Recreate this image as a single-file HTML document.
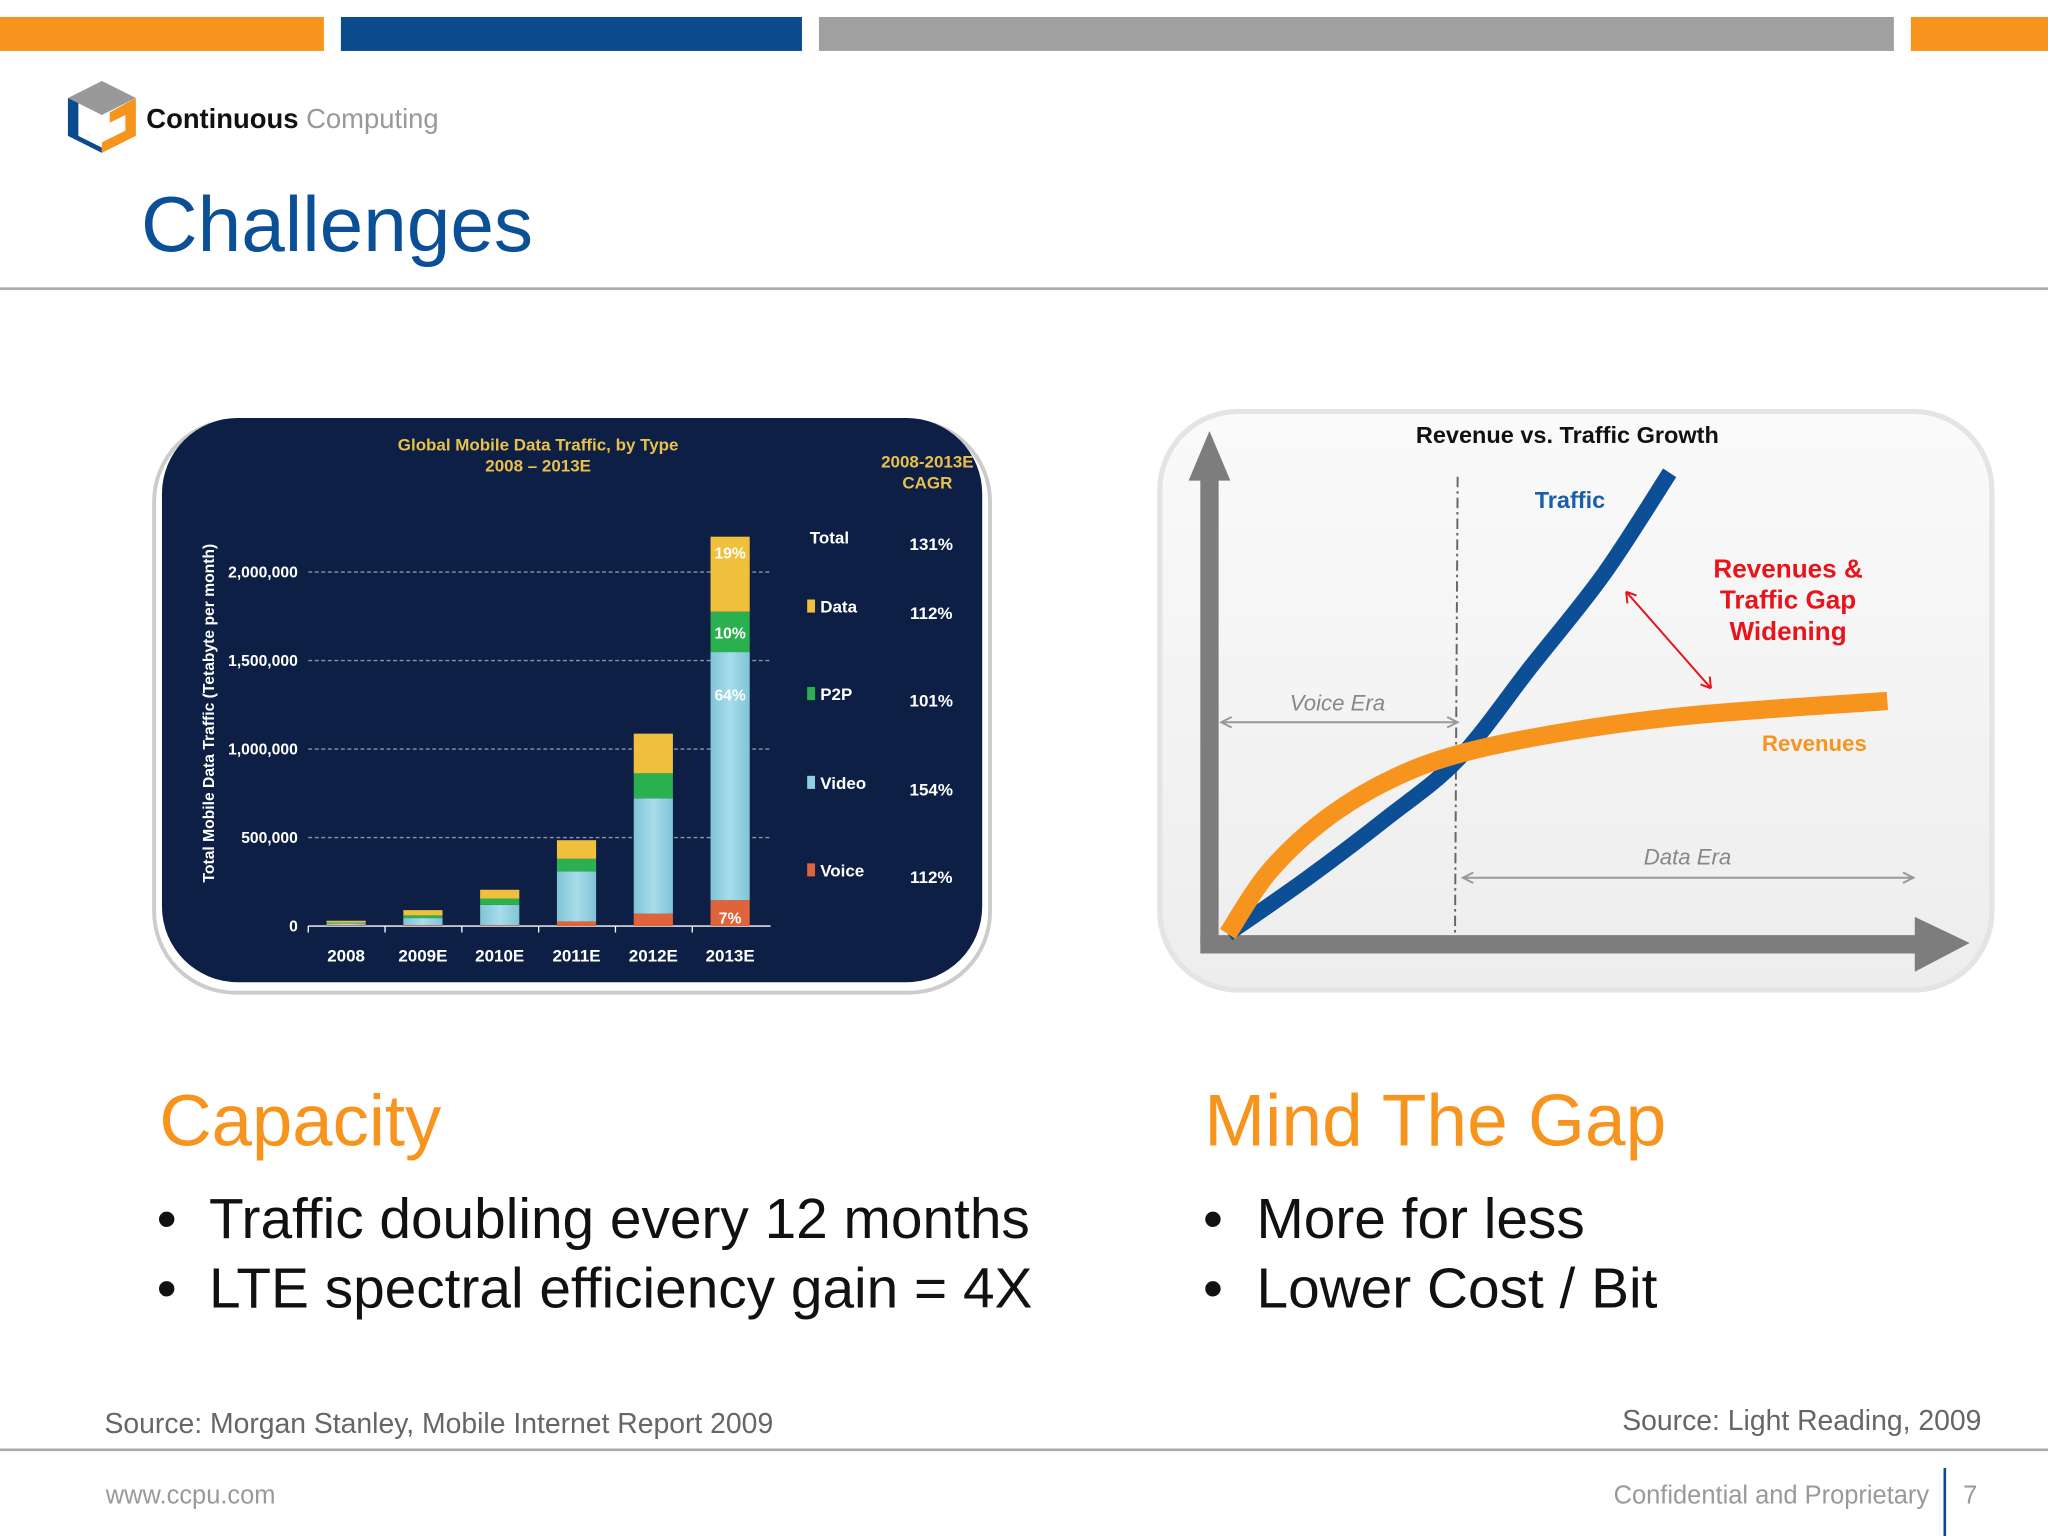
<!DOCTYPE html>
<html><head><meta charset="utf-8"><style>
html,body{margin:0;padding:0;background:#fff;}
svg{display:block;font-family:"Liberation Sans",Arial,sans-serif;}
</style></head><body>
<svg id="s" width="2048" height="1536" viewBox="0 0 1568 1176" xmlns="http://www.w3.org/2000/svg">
<defs>
<linearGradient id="vid" x1="0" x2="1"><stop offset="0" stop-color="#7fc4d6"/><stop offset="0.5" stop-color="#a8dceb"/><stop offset="1" stop-color="#7fc4d6"/></linearGradient>
<linearGradient id="rbg" x1="0" y1="0" x2="0" y2="1"><stop offset="0" stop-color="#fafafa"/><stop offset="1" stop-color="#ededed"/></linearGradient>
</defs>
<rect x="0" y="13" width="248" height="26" fill="#f7941d"/>
<rect x="261" y="13" width="353" height="26" fill="#0b4a8c"/>
<rect x="627" y="13" width="823" height="26" fill="#a0a0a0"/>
<rect x="1463" y="13" width="105" height="26" fill="#f7941d"/>
<g>
<polygon points="78,62 104,75 78,88 52,75" fill="#999"/>
<polygon points="52,75 60,79 60,104 78,113 78,117 52,104" fill="#0b4a8c"/>
<polygon points="104,75 104,104 78,117 78,109 96,100 96,88 84,94 84,86" fill="#f7941d"/>
<text x="112" y="98" font-size="21" font-weight="bold" fill="#111">Continuous <tspan font-weight="normal" fill="#999">Computing</tspan></text>
</g>
<text x="108" y="192" font-size="60" fill="#0b4f96">Challenges</text>
<rect x="0" y="220" width="1568" height="2" fill="#aaa"/>

<rect x="118" y="322" width="640" height="438" rx="62" fill="#fff" stroke="#ccc" stroke-width="3"/>
<rect x="124" y="320" width="628" height="432" rx="58" fill="#0d1f45"/>
<g id="lc"></g>

<rect x="888" y="315" width="637" height="443" rx="60" fill="url(#rbg)" stroke="#e4e4e4" stroke-width="4"/>
<g id="rc"></g>

<text x="122" y="877" font-size="55.5" fill="#f7941d">Capacity</text>
<text x="120" y="948" font-size="43.5" fill="#111">•</text>
<text x="160" y="948" font-size="43.5" fill="#111">Traffic doubling every 12 months</text>
<text x="120" y="1001" font-size="43.5" fill="#111">•</text>
<text x="160" y="1001" font-size="43.5" fill="#111">LTE spectral efficiency gain = 4X</text>
<text x="922" y="877" font-size="56" fill="#f7941d">Mind The Gap</text>
<text x="921" y="948" font-size="43.5" fill="#111">•</text>
<text x="962" y="948" font-size="43.5" fill="#111">More for less</text>
<text x="921" y="1001" font-size="43.5" fill="#111">•</text>
<text x="962" y="1001" font-size="43.5" fill="#111">Lower Cost / Bit</text>
<text x="80" y="1097" font-size="21.7" fill="#666">Source: Morgan Stanley, Mobile Internet Report 2009</text>
<text x="1517" y="1095" font-size="21.7" fill="#666" text-anchor="end">Source: Light Reading, 2009</text>
<rect x="0" y="1109" width="1568" height="2" fill="#aaa"/>
<text x="81" y="1151" font-size="19.5" fill="#999">www.ccpu.com</text>
<text x="1477" y="1151" font-size="19.5" fill="#999" text-anchor="end">Confidential and Proprietary</text>
<rect x="1488" y="1124" width="2" height="52" fill="#0b4a8c"/>
<text x="1503" y="1151" font-size="19.5" fill="#999">7</text>
</svg>
<script>
// ---- left chart data ----
const years = ['2008','2009E','2010E','2011E','2012E','2013E'];
const voice = [5000, 5000, 5000, 26000, 70000, 146000];
const video = [10000, 40000, 115000, 283000, 652000, 1402000];
const p2p = [5000, 15000, 35000, 71000, 141000, 228000];
const dataT = [10000, 30000, 50000, 105000, 224000, 424000];
const yTicks = [0, 500000, 1000000, 1500000, 2000000];
const yTickLabels = ['0','500,000','1,000,000','1,500,000','2,000,000'];
const legendNames = ['Total','Data','P2P','Video','Voice'];
const cagr = ['131%','112%','101%','154%','112%'];
const shareLabels = ['7%','64%','10%','19%'];

// ---- right chart data ----
const trafficT = [0, 1.2, 2.4, 3.5, 4.6, 5.7, 6.7];
const traffic = [0, 12, 25, 38, 58, 78, 100];
const revenueT = [0, 0.6, 1.4, 2.4, 3.5, 5.2, 7.1, 10];
const revenue = [0, 13, 24, 33, 39, 44, 47.5, 50.5];

const NS = 'http://www.w3.org/2000/svg';
function mk(tag, attrs, parent, txt){const e=document.createElementNS(NS,tag);for(const k in attrs)e.setAttribute(k,attrs[k]);if(txt!==undefined)e.textContent=txt;parent.appendChild(e);return e;}

const lc = document.getElementById('lc');
const yS = v => 709 - v/500000*67.75;
const xS = i => 265 + i*58.8;
yTicks.forEach((v,i)=>{
  if(v>0){const g=mk('line',{x1:236,x2:590,y1:yS(v),y2:yS(v),stroke:'#8a93a8','stroke-width':1,'stroke-dasharray':'3 2'},lc);
  
  }
  const t=mk('text',{x:228,y:yS(v)+4,'font-size':12,'font-weight':'bold',fill:'#fff','text-anchor':'end'},lc,yTickLabels[i]);
  
  
});
const ax=mk('line',{x1:236,x2:590,y1:709,y2:709,stroke:'#fff','stroke-width':1},lc);


const yt=mk('text',{transform:'translate(164,546) rotate(-90)','font-size':12,'font-weight':'bold',fill:'#fff','text-anchor':'middle'},lc,'Total Mobile Data Traffic (Tetabyte per month)');


const t1=mk('text',{x:412,y:345,'font-size':13,'font-weight':'bold',fill:'#e8c04a','text-anchor':'middle'},lc,'Global Mobile Data Traffic, by Type');


const t2=mk('text',{x:412,y:361,'font-size':13,'font-weight':'bold',fill:'#e8c04a','text-anchor':'middle'},lc,'2008 – 2013E');


const c1=mk('text',{x:710,y:358,'font-size':13,'font-weight':'bold',fill:'#e8c04a','text-anchor':'middle'},lc,'2008-2013E');


const c2=mk('text',{x:710,y:374,'font-size':13,'font-weight':'bold',fill:'#e8c04a','text-anchor':'middle'},lc,'CAGR');


const series=[voice,video,p2p,dataT];
const colors=['#e0643a','url(#vid)','#2bb04f','#f0bf3c'];
const sNames=['voice','video','p2p','data'];
years.forEach((yr,i)=>{
  let base=0;
  series.forEach((s,k)=>{
    const y0=yS(base), y1=yS(base+s[i]);
    const r=mk('rect',{x:xS(i)-15,y:y1,width:30,height:y0-y1,fill:colors[k]},lc);
    
    
    if(i===years.length-1){
      const lt=mk('text',{x:xS(i),y:(y0+y1)/2+(k===0?8:k===1?-58:k===3?-12:5),'font-size':12,'font-weight':'bold',fill:'#fff','text-anchor':'middle'},lc,shareLabels[k]);
      
      
    }
    base+=s[i];
  });
  const xl=mk('text',{x:xS(i),y:736,'font-size':13,'font-weight':'bold',fill:'#fff','text-anchor':'middle'},lc,yr);
  
  
  const tk=mk('line',{x1:xS(i)-29,x2:xS(i)-29,y1:709,y2:714,stroke:'#fff'},lc);
  
  
});
const legCols=[null,'#f0bf3c','#2bb04f','#8fd0e0','#e0643a'];
legendNames.forEach((n,i)=>{
  const y=[416,469,536,604,671][i];
  if(legCols[i]){const sw=mk('rect',{x:618,y:y-10,width:6,height:10,fill:legCols[i]},lc);
  
  }
  const ln=mk('text',{x:legCols[i]?628:620,y:y,'font-size':13,'font-weight':'bold',fill:'#fff'},lc,n);
  
  
  const cv=mk('text',{x:713,y:y+5,'font-size':13,'font-weight':'bold',fill:'#fff','text-anchor':'middle'},lc,cagr[i]);
  
  
});

// ---- right chart ----
const rc=document.getElementById('rc');
const rx=t=>940+t*50.5;
const ry=v=>715-v*3.53;
const ttl=mk('text',{x:1200,y:339,'font-size':18,'font-weight':'bold',fill:'#111','text-anchor':'middle'},rc,'Revenue vs. Traffic Growth');


const yax=mk('path',{d:'M919,722 L919,368 L910,368 L926,330 L942,368 L933,368 L933,722 Z',fill:'#7d7d7d'},rc);


const xax=mk('path',{d:'M919,716 L1466,716 L1466,702 L1508,722 L1466,744 L1466,730 L919,730 Z',fill:'#7d7d7d'},rc);


const dv=mk('line',{x1:1116,x2:1114,y1:365,y2:715,stroke:'#666','stroke-width':1.5,'stroke-dasharray':'8 3 2 3'},rc);


function arrow(x1,x2,y,name){
  const a=mk('path',{d:`M${x1},${y} L${x2},${y} M${x1+8},${y-4} L${x1},${y} L${x1+8},${y+4} M${x2-8},${y-4} L${x2},${y} L${x2-8},${y+4}`,stroke:'#999','stroke-width':1.5,fill:'none'},rc);
  
  
}
arrow(935,1116,553,'voice-era-arrow');
arrow(1120,1465,672,'data-era-arrow');
const ve=mk('text',{x:1024,y:544,'font-size':17,'font-style':'italic',fill:'#888','text-anchor':'middle'},rc,'Voice Era');


const de=mk('text',{x:1292,y:662,'font-size':17,'font-style':'italic',fill:'#888','text-anchor':'middle'},rc,'Data Era');


function line(ts,vals,col,w,name){
  const P=vals.map((v,i)=>[rx(ts[i]),ry(v)]);
  let d='M'+P[0][0]+','+P[0][1];
  for(let i=0;i<P.length-1;i++){
    const p0=P[Math.max(0,i-1)],p1=P[i],p2=P[i+1],p3=P[Math.min(P.length-1,i+2)];
    const c1=[p1[0]+(p2[0]-p0[0])/6,p1[1]+(p2[1]-p0[1])/6];
    const c2=[p2[0]-(p3[0]-p1[0])/6,p2[1]-(p3[1]-p1[1])/6];
    d+=` C${c1[0]},${c1[1]} ${c2[0]},${c2[1]} ${p2[0]},${p2[1]}`;
  }
  const p=mk('path',{d:d,stroke:col,'stroke-width':w,fill:'none'},rc);
  
  
}
line(trafficT,traffic,'#0d4f96',12,'traffic-line');
line(revenueT,revenue,'#f7941d',14,'revenues-line');
const tl=mk('text',{x:1175,y:389,'font-size':18,'font-weight':'bold',fill:'#1a5fa8'},rc,'Traffic');


const rl=mk('text',{x:1349,y:575,'font-size':17,'font-weight':'bold',fill:'#f7941d'},rc,'Revenues');


['Revenues &','Traffic Gap','Widening'].forEach((s,i)=>{
  const g=mk('text',{x:1369,y:442+i*24,'font-size':20,'font-weight':'bold',fill:'#e8141c','text-anchor':'middle'},rc,s);
  
  
});
const ga=mk('path',{d:'M1245,453 L1310,527 M1245,453 l1,9 M1245,453 l8,3 M1310,527 l-1,-9 M1310,527 l-8,-3',stroke:'#e8141c','stroke-width':1.5,fill:'none'},rc);


</script>
</body></html>
